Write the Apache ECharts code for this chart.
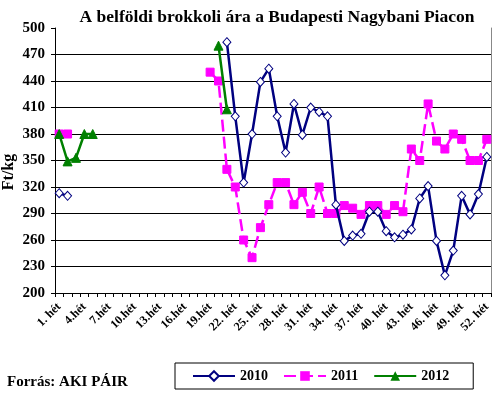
<!DOCTYPE html>
<html>
<head>
<meta charset="utf-8">
<script src="https://cdn.jsdelivr.net/npm/echarts@6/dist/echarts.min.js"></script>
<style>
html,body{margin:0;padding:0;background:#fff;}
#c{width:500px;height:396px;}
</style>
</head>
<body>
<div id="c"></div>
<script>
var categories = ["1. hét","2.hét","3.hét","4.hét","5.hét","6.hét","7.hét","8.hét","9.hét","10.hét",
"11.hét","12.hét","13.hét","14.hét","15.hét","16.hét","17.hét","18.hét","19.hét","20.hét","21.hét",
"22. hét","23. hét","24. hét","25. hét","26. hét","27. hét","28. hét","29. hét","30. hét","31. hét",
"32. hét","33. hét","34. hét","35. hét","36. hét","37. hét","38. hét","39. hét","40. hét","41. hét",
"42. hét","43. hét","44. hét","45. hét","46. hét","47. hét","48. hét","49. hét","50. hét","51. hét","52. hét"];

var s2010 = [313,310,null,null,null,null,null,null,null,null,
null,null,null,null,null,null,null,null,null,null,
484,400,325,380,439,454,400,359,414,379,
410,405,400,300,259,265,267,292,292,270,
263,266,272,307,321,259,220,248,310,289,
312,354];

var s2011 = [380,380,null,null,null,null,null,null,null,null,
null,null,null,null,null,null,null,null,450,440,
340,320,260,240,274,300,325,325,300,314,
290,320,290,290,299,296,289,299,299,289,
299,292,363,350,414,372,363,380,374,350,
350,374];

var s2012 = [380,349,353,380,380,null,null,null,null,null,
null,null,null,null,null,null,null,null,null,480,
408,null,null,null,null,null,null,null,null,null,
null,null,null,null,null,null,null,null,null,null,
null,null,null,null,null,null,null,null,null,null,
null,null];

var seriesNames = ["2010","2011","2012"];
var yTicks = {min:200, max:500, interval:30};

var F = "'Liberation Serif','Times New Roman',serif";
var chart = echarts.init(document.getElementById('c'), null, {renderer:'canvas'});
chart.setOption({
  animation:false,
  backgroundColor:'#fff',
  title:{
    text:'A belföldi brokkoli ára a Budapesti Nagybani Piacon',
    left:272, top:3, textAlign:'center',
    textStyle:{fontFamily:F, fontWeight:'bold', fontSize:17.5, color:'#000'}
  },
  grid:{left:55, right:9, top:28, bottom:103, containLabel:false},
  graphic:[{
    type:'text', left:7, top:375,
    style:{text:'Forrás: AKI PÁIR', font:"bold 15px "+F, fill:'#000'}
  },{
    type:'text', x:9, y:172, rotation:Math.PI/2,
    style:{text:'Ft/kg', font:"bold 16px "+F, fill:'#000', textAlign:'center', textVerticalAlign:'middle'}
  }],
  legend:{
    data:seriesNames,
    left:175, top:363, width:297, height:27,
    padding:[6,24,6,17],
    borderColor:'#000', borderWidth:1,
    itemWidth:42, itemHeight:12, itemGap:15,
    textStyle:{fontFamily:F, fontWeight:'bold', fontSize:14, color:'#000'}
  },
  xAxis:{
    type:'category', data:categories, boundaryGap:true,
    axisLine:{lineStyle:{color:'#000', width:1}},
    axisTick:{show:true, alignWithLabel:false, interval:0, length:4, lineStyle:{color:'#000'}},
    axisLabel:{interval:2, rotate:45, fontFamily:F, fontWeight:'bold', fontSize:12, color:'#000', margin:12}
  },
  yAxis:[{
    type:'value', min:yTicks.min, max:yTicks.max, interval:yTicks.interval,
    axisLine:{show:true, lineStyle:{color:'#000', width:1}},
    axisTick:{show:true, length:4, lineStyle:{color:'#000'}},
    axisLabel:{fontFamily:F, fontWeight:'bold', fontSize:15, color:'#000', margin:10},
    splitLine:{show:true, showMaxLine:false, lineStyle:{color:'#000', width:1}}
  },{
    type:'value', min:yTicks.min, max:yTicks.max, interval:yTicks.interval, position:'right',
    axisLine:{show:true, lineStyle:{color:'#888', width:1}},
    axisTick:{show:false}, axisLabel:{show:false}, splitLine:{show:false}
  }],
  series:[{
    name:seriesNames[0], type:'line', data:s2010,
    symbol:'diamond', symbolSize:[8,9], showAllSymbol:true,
    lineStyle:{color:'#000080', width:2.5},
    itemStyle:{color:'#fff', borderColor:'#000080', borderWidth:1},
    z:3
  },{
    name:seriesNames[1], type:'line', data:s2011,
    symbol:'rect', symbolSize:8, showAllSymbol:true,
    lineStyle:{color:'#ff00ff', width:2.5, type:[12,5]},
    itemStyle:{color:'#ff00ff', borderColor:'#ff00ff'},
    z:2
  },{
    name:seriesNames[2], type:'line', data:s2012,
    symbol:'triangle', symbolSize:9, showAllSymbol:true,
    lineStyle:{color:'#008000', width:2.5},
    itemStyle:{color:'#008000', borderColor:'#008000'},
    z:4
  }]
});
</script>
</body>
</html>
